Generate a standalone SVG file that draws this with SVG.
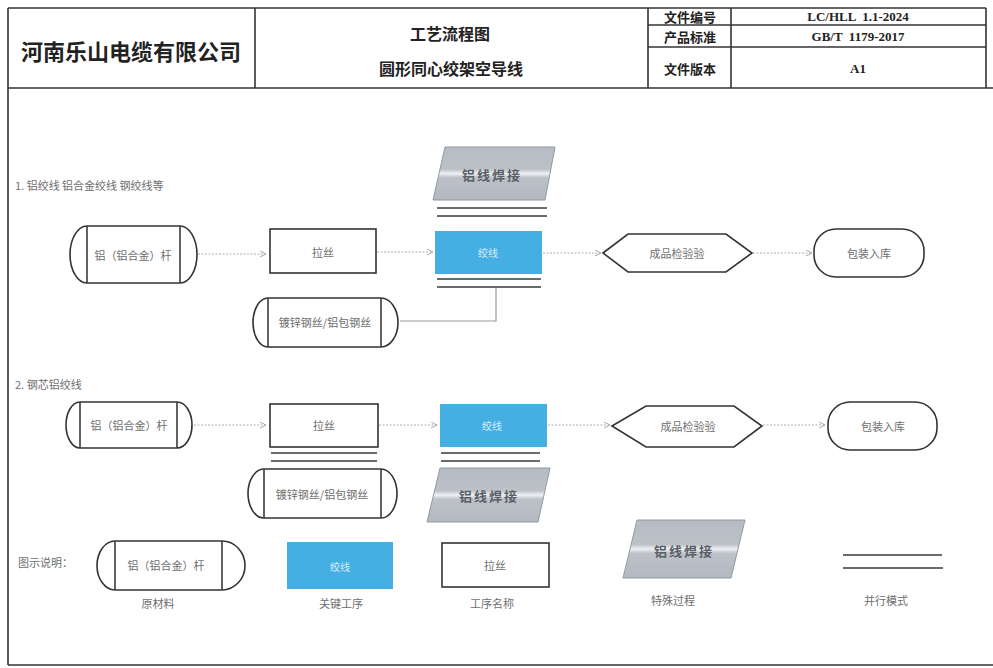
<svg xmlns="http://www.w3.org/2000/svg" width="993" height="668" viewBox="0 0 993 668">
<style>
.frame{fill:none;stroke:#333;stroke-width:1.6}
.box{fill:#fff;stroke:#333;stroke-width:1.6}
.key{fill:#45aee3}
.sp{fill:url(#spg);stroke:#8e9aa6;stroke-width:1}
.par{stroke:#3a3a3a;stroke-width:1.6}
.conn{fill:none;stroke:#b0b0b0;stroke-width:1;stroke-dasharray:2 1.5}
.link{fill:none;stroke:#9a9a9a;stroke-width:1.2}
.t{font-family:"Noto Sans CJK SC",sans-serif;font-size:11px;fill:#6e6e6e;text-anchor:middle;dominant-baseline:central}
.tl{font-family:"Noto Sans CJK SC",sans-serif;font-size:11px;fill:#6e6e6e;dominant-baseline:central}
.tw{font-family:"Noto Sans CJK SC",sans-serif;font-size:10px;fill:#d6eefa;text-anchor:middle;dominant-baseline:central}
.ts{font-family:"Noto Sans CJK SC",sans-serif;font-size:13px;font-weight:700;fill:#5b6068;text-anchor:middle;dominant-baseline:central;letter-spacing:2px}
.h{font-family:"Noto Sans CJK SC",sans-serif;font-weight:700;fill:#222;text-anchor:middle;dominant-baseline:central}
.hv{font-family:"Liberation Serif","Noto Sans CJK SC",serif;font-weight:700;font-size:13px;fill:#222;text-anchor:middle;dominant-baseline:central}
</style>
<defs>
<linearGradient id="spg" x1="0" y1="0" x2="0" y2="1">
<stop offset="0" stop-color="#b7bcc4"/>
<stop offset="0.42" stop-color="#bcc1c8"/>
<stop offset="0.5" stop-color="#eef0f3"/>
<stop offset="0.58" stop-color="#bcc1c8"/>
<stop offset="1" stop-color="#b4b9c1"/>
</linearGradient>
<marker id="arr" markerWidth="8" markerHeight="8" refX="6" refY="3" orient="auto" markerUnits="userSpaceOnUse">
<path d="M0,0 L6,3 L0,6" fill="none" stroke="#a8a8a8" stroke-width="1"/>
</marker>
</defs>
<rect width="993" height="668" fill="#fff"/>

<g id="frame">
<line class="frame" x1="8" y1="8" x2="986" y2="8"/>
<line class="frame" x1="8" y1="88" x2="993" y2="88"/>
<line class="frame" x1="8" y1="8" x2="8" y2="665"/>
<line class="frame" x1="8" y1="665" x2="993" y2="665"/>
<line class="frame" x1="986" y1="8" x2="986" y2="88"/>
<line class="frame" x1="255" y1="8" x2="255" y2="88"/>
<line class="frame" x1="648" y1="8" x2="648" y2="88"/>
<line class="frame" x1="731" y1="8" x2="731" y2="88"/>
<line class="frame" x1="648" y1="25" x2="986" y2="25"/>
<line class="frame" x1="648" y1="47" x2="986" y2="47"/>
</g>

<g id="header">
<text class="h" x="131" y="50" font-size="22">河南乐山电缆有限公司</text>
<text class="h" x="450" y="33" font-size="16">工艺流程图</text>
<text class="h" x="451" y="68" font-size="16">圆形同心绞架空导线</text>
<text class="h" x="690" y="16" font-size="13">文件编号</text>
<text class="h" x="690" y="36" font-size="13">产品标准</text>
<text class="h" x="690" y="68" font-size="13">文件版本</text>
<text class="hv" x="858" y="16" xml:space="preserve">LC/HLL  1.1-2024</text>
<text class="hv" x="858" y="36" xml:space="preserve">GB/T  1179-2017</text>
<text class="hv" x="858" y="68">A1</text>
</g>

<g id="connectors">
<line class="conn" x1="198" y1="254" x2="266" y2="254" marker-end="url(#arr)"/>
<line class="conn" x1="377" y1="252" x2="433" y2="252" marker-end="url(#arr)"/>
<line class="conn" x1="543" y1="253" x2="601" y2="253" marker-end="url(#arr)"/>
<line class="conn" x1="753" y1="253" x2="812" y2="253" marker-end="url(#arr)"/>
<path class="link" d="M400,321 H496 V287"/>
<line class="conn" x1="194" y1="425" x2="266" y2="425" marker-end="url(#arr)"/>
<line class="conn" x1="379" y1="425" x2="437" y2="425" marker-end="url(#arr)"/>
<line class="conn" x1="548" y1="425" x2="610" y2="425" marker-end="url(#arr)"/>
<line class="conn" x1="763" y1="425" x2="825" y2="425" marker-end="url(#arr)"/>
</g>

<text class="tl" x="15" y="185">1.  铝绞线  铝合金绞线  钢绞线等</text>

<g id="s1-rod">
<path class="box" d="M87,226 H180 A17,28.5 0 0 1 180,283 H87 A17,28.5 0 0 1 87,226 Z"/>
<line class="par" x1="87" y1="226" x2="87" y2="283"/>
<line class="par" x1="180" y1="226" x2="180" y2="283"/>
<text class="t" x="133" y="255">铝（铝合金）杆</text>
</g>
<g id="s1-drawing">
<rect class="box" x="270" y="229" width="106" height="44"/>
<text class="t" x="323" y="252">拉丝</text>
</g>
<g id="s1-weld">
<polygon class="sp" points="445,147 555,147 545,200 433,200"/>
<text class="ts" x="492" y="174">铝线焊接</text>
<line class="par" x1="437" y1="208" x2="547" y2="208"/>
<line class="par" x1="437" y1="216" x2="547" y2="216"/>
</g>
<g id="s1-strand">
<rect class="key" x="435" y="231" width="107" height="43"/>
<text class="tw" x="488" y="252">绞线</text>
<line class="par" x1="437" y1="279" x2="541" y2="279"/>
<line class="par" x1="437" y1="287" x2="541" y2="287"/>
</g>
<g id="s1-steel">
<path class="box" d="M268,298 H381 A17,24.5 0 0 1 381,347 H268 A15,24.5 0 0 1 268,298 Z"/>
<line class="par" x1="268" y1="298" x2="268" y2="347"/>
<line class="par" x1="381" y1="298" x2="381" y2="347"/>
<text class="t" x="325" y="322" font-size="12">镀锌钢丝/铝包钢丝</text>
</g>
<g id="s1-inspect">
<polygon class="box" points="603,253 628,234 726,234 752,253 726,272 628,272"/>
<text class="t" x="677" y="253">成品检验验</text>
</g>
<g id="s1-pack">
<rect class="box" x="814" y="229" width="110" height="48" rx="22" ry="22"/>
<text class="t" x="869" y="253">包装入库</text>
</g>

<text class="tl" x="15" y="384">2.  钢芯铝绞线</text>

<g id="s2-rod">
<path class="box" d="M80,402 H177 A15,23 0 0 1 177,448 H80 A14,23 0 0 1 80,402 Z"/>
<line class="par" x1="80" y1="402" x2="80" y2="448"/>
<line class="par" x1="177" y1="402" x2="177" y2="448"/>
<text class="t" x="129" y="425">铝（铝合金）杆</text>
</g>
<g id="s2-drawing">
<rect class="box" x="270" y="404" width="108" height="43"/>
<text class="t" x="324" y="425">拉丝</text>
<line class="par" x1="271" y1="453" x2="377" y2="453"/>
<line class="par" x1="271" y1="461" x2="377" y2="461"/>
</g>
<g id="s2-steel">
<path class="box" d="M264,469 H381 A16,24.5 0 0 1 381,518 H264 A16,24.5 0 0 1 264,469 Z"/>
<line class="par" x1="264" y1="469" x2="264" y2="518"/>
<line class="par" x1="381" y1="469" x2="381" y2="518"/>
<text class="t" x="322" y="494" font-size="12">镀锌钢丝/铝包钢丝</text>
</g>
<g id="s2-strand">
<rect class="key" x="440" y="404" width="107" height="43"/>
<text class="tw" x="492" y="425">绞线</text>
<line class="par" x1="441" y1="453" x2="540" y2="453"/>
<line class="par" x1="441" y1="461" x2="540" y2="461"/>
</g>
<g id="s2-weld">
<polygon class="sp" points="440,468 550,468 538,522 427,522"/>
<text class="ts" x="489" y="495">铝线焊接</text>
</g>
<g id="s2-inspect">
<polygon class="box" points="612,426 646,406 734,406 762,426 734,447 646,447"/>
<text class="t" x="688" y="426">成品检验验</text>
</g>
<g id="s2-pack">
<rect class="box" x="828" y="402" width="109" height="48" rx="22" ry="22"/>
<text class="t" x="883" y="426">包装入库</text>
</g>

<g id="legend">
<text class="tl" x="18" y="562">图示说明：</text>
<path class="box" d="M115,541 H222 A23,24.5 0 0 1 222,590 H115 A18,24.5 0 0 1 115,541 Z"/>
<line class="par" x1="115" y1="541" x2="115" y2="590"/>
<line class="par" x1="222" y1="541" x2="222" y2="590"/>
<text class="t" x="166" y="565">铝（铝合金）杆</text>
<text class="t" x="158" y="603">原材料</text>
<rect class="key" x="287" y="542" width="106" height="47"/>
<text class="tw" x="340" y="566">绞线</text>
<text class="t" x="341" y="603">关键工序</text>
<rect class="box" x="442" y="543" width="107" height="44"/>
<text class="t" x="495" y="565">拉丝</text>
<text class="t" x="492" y="603">工序名称</text>
<polygon class="sp" points="637,520 745,520 731,578 623,578"/>
<text class="ts" x="684" y="550">铝线焊接</text>
<text class="t" x="673" y="600">特殊过程</text>
<line class="par" x1="843" y1="555" x2="942" y2="555"/>
<line class="par" x1="843" y1="568" x2="943" y2="568"/>
<text class="t" x="886" y="600">并行模式</text>
</g>
</svg>
